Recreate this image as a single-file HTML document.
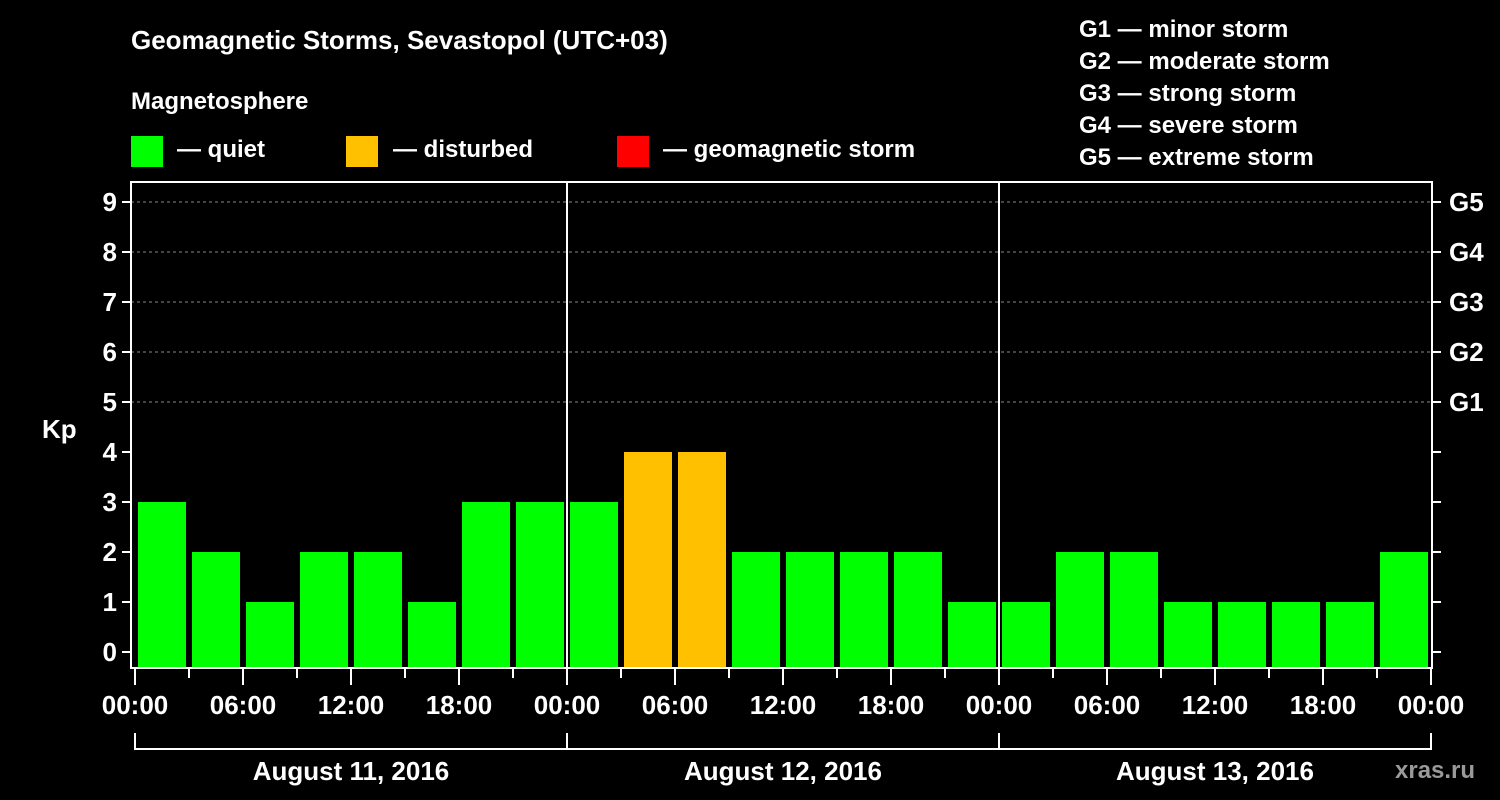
<!DOCTYPE html>
<html><head><meta charset="utf-8"><style>
body{margin:0;background:#000;width:1500px;height:800px;overflow:hidden}
svg{display:block}
text{font-family:"Liberation Sans",sans-serif;font-weight:bold;fill:#fff}
</style></head><body>
<svg id="c" width="1500" height="800">
<text x="131" y="49" font-size="26">Geomagnetic Storms, Sevastopol (UTC+03)</text>
<text x="131" y="109" font-size="24">Magnetosphere</text>
<rect x="131" y="136" width="32" height="31" fill="#00ff00"/>
<text x="177" y="157" font-size="24">— quiet</text>
<rect x="346" y="136" width="32" height="31" fill="#ffc000"/>
<text x="393" y="157" font-size="24">— disturbed</text>
<rect x="617" y="136" width="32" height="31" fill="#ff0000"/>
<text x="663" y="157" font-size="24">— geomagnetic storm</text>
<g font-size="24">
<text x="1079" y="37">G1 — minor storm</text>
<text x="1079" y="69">G2 — moderate storm</text>
<text x="1079" y="101">G3 — strong storm</text>
<text x="1079" y="133">G4 — severe storm</text>
<text x="1079" y="165">G5 — extreme storm</text>
</g>
<text x="42" y="438" font-size="26">Kp</text>
<text x="1395" y="778" font-size="24" fill="#999" style="fill:#9a9a9a">xras.ru</text>
<g id="plot"></g>
</svg>
<script>
const values=[3,2,1,2,2,1,3,3, 3,4,4,2,2,2,2,1, 1,2,2,1,1,1,1,2];
const yTicks=[0,1,2,3,4,5,6,7,8,9];
const gLabels=["G1","G2","G3","G4","G5"];
const gLevels=[5,6,7,8,9];
const timeLabels=["00:00","06:00","12:00","18:00"];
const dayLabels=["August 11, 2016","August 12, 2016","August 13, 2016"];
const ns="http://www.w3.org/2000/svg";
const g=document.getElementById("plot");
const X0=135,SLOT=54,Y0=652,UNIT=50,TOP=182,BOT=668,L=131,R=1432;
const x=i=>X0+i*SLOT, y=v=>Y0-v*UNIT;
function mk(t,a,p){const e=document.createElementNS(ns,t);for(const k in a)e.setAttribute(k,a[k]);(p||g).appendChild(e);return e;}
function color(v){return v>=5?"#ff0000":v>=4?"#ffc000":"#00ff00";}
// grid
yTicks.filter(v=>v>=5).forEach(v=>{const e=mk("line",{x1:L,x2:R,y1:y(v),y2:y(v),stroke:"#888","stroke-dasharray":"3,3","stroke-width":1});

});
// bars
values.forEach((v,i)=>{const top=y(v);const e=mk("rect",{x:x(i)+3,y:top,width:48,height:BOT-top,fill:color(v)});

});
// day separators
for(let d=1;d<dayLabels.length;d++){const e=mk("line",{x1:x(d*8),x2:x(d*8),y1:TOP,y2:BOT,stroke:"#fff","stroke-width":2});

}
// frame
const fr=mk("rect",{x:L,y:TOP,width:R-L,height:BOT-TOP,fill:"none",stroke:"#fff","stroke-width":2});


// y ticks
yTicks.forEach(v=>{mk("line",{x1:L-9,x2:L,y1:y(v),y2:y(v),stroke:"#fff","stroke-width":2});
mk("line",{x1:R,x2:R+9,y1:y(v),y2:y(v),stroke:"#fff","stroke-width":2});
const t=mk("text",{x:L-14,y:y(v)+9,"text-anchor":"end","font-size":26});t.textContent=v;

});
gLabels.forEach((s,i)=>{const t=mk("text",{x:1449,y:y(gLevels[i])+9,"font-size":26});t.textContent=s;

});
// x ticks
for(let i=0;i<=values.length;i++){const major=i%2==0;
mk("line",{x1:x(i),x2:x(i),y1:BOT,y2:BOT+(major?17:10),stroke:"#fff","stroke-width":2});
if(major){const t=mk("text",{x:x(i),y:BOT+46,"text-anchor":"middle","font-size":26});t.textContent=timeLabels[(i/2)%4];

}}
// day bracket
const n=dayLabels.length;
mk("line",{x1:x(0),x2:x(n*8),y1:749,y2:749,stroke:"#fff","stroke-width":2});
for(let d=0;d<=n;d++)mk("line",{x1:x(d*8),x2:x(d*8),y1:733,y2:750,stroke:"#fff","stroke-width":2});
dayLabels.forEach((s,d)=>{const t=mk("text",{x:x(d*8+4),y:780,"text-anchor":"middle","font-size":26});t.textContent=s;

});
</script>
</body></html>
